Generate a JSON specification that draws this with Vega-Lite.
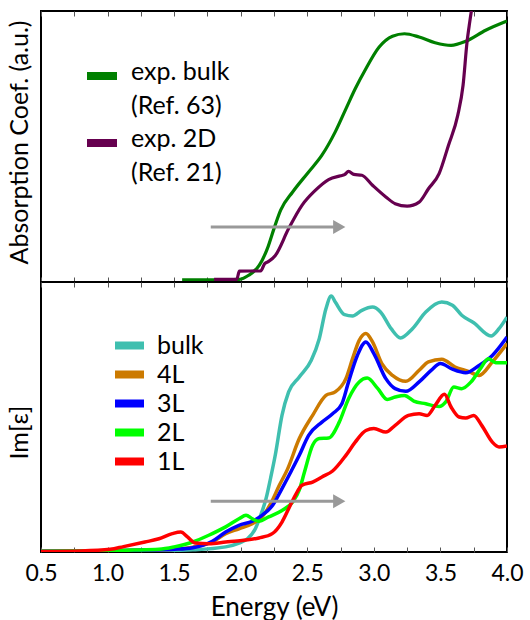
{
  "$schema": "https://vega.github.io/schema/vega-lite/v6.json",
  "padding": {"left": 5, "top": 9, "right": 0, "bottom": 0},
  "bounds": "flush",
  "spacing": 0,
  "config": {
    "view": {"stroke": "black", "strokeWidth": 2},
    "font": "Lato",
    "axis": {"labelFont": "Lato", "titleFont": "Lato", "titleFontWeight": "normal", "labelColor": "black", "titleColor": "black", "grid": false, "domain": false}
  },
  "datasets": {
    "top": [
      {"E": 1.56, "v": 0.8, "s": "exp. bulk"}, {"E": 1.8, "v": 0.8, "s": "exp. bulk"}, {"E": 1.99, "v": 1.0, "s": "exp. bulk"},
      {"E": 2.06, "v": 2.5, "s": "exp. bulk"}, {"E": 2.14, "v": 6.2, "s": "exp. bulk"}, {"E": 2.2, "v": 12.3, "s": "exp. bulk"},
      {"E": 2.25, "v": 19.7, "s": "exp. bulk"}, {"E": 2.3, "v": 26.5, "s": "exp. bulk"}, {"E": 2.39, "v": 33.2, "s": "exp. bulk"},
      {"E": 2.51, "v": 40.6, "s": "exp. bulk"}, {"E": 2.61, "v": 46.8, "s": "exp. bulk"}, {"E": 2.71, "v": 55.4, "s": "exp. bulk"},
      {"E": 2.79, "v": 63.9, "s": "exp. bulk"}, {"E": 2.86, "v": 71.3, "s": "exp. bulk"}, {"E": 2.94, "v": 78.7, "s": "exp. bulk"},
      {"E": 3.04, "v": 86.7, "s": "exp. bulk"}, {"E": 3.14, "v": 90.7, "s": "exp. bulk"}, {"E": 3.23, "v": 91.6, "s": "exp. bulk"},
      {"E": 3.34, "v": 90.4, "s": "exp. bulk"}, {"E": 3.46, "v": 88.3, "s": "exp. bulk"}, {"E": 3.58, "v": 87.3, "s": "exp. bulk"},
      {"E": 3.69, "v": 88.8, "s": "exp. bulk"}, {"E": 3.84, "v": 92.9, "s": "exp. bulk"}, {"E": 4.0, "v": 96.3, "s": "exp. bulk"},
      {"E": 1.8, "v": 1.0, "s": "exp. 2D"}, {"E": 1.97, "v": 1.0, "s": "exp. 2D"}, {"E": 1.99, "v": 4.0, "s": "exp. 2D"},
      {"E": 2.15, "v": 4.1, "s": "exp. 2D"}, {"E": 2.18, "v": 6.8, "s": "exp. 2D"}, {"E": 2.21, "v": 7.6, "s": "exp. 2D"},
      {"E": 2.26, "v": 9.8, "s": "exp. 2D"}, {"E": 2.36, "v": 19.7, "s": "exp. 2D"}, {"E": 2.46, "v": 28.3, "s": "exp. 2D"},
      {"E": 2.56, "v": 33.8, "s": "exp. 2D"}, {"E": 2.66, "v": 37.8, "s": "exp. 2D"}, {"E": 2.75, "v": 39.2, "s": "exp. 2D"},
      {"E": 2.78, "v": 39.6, "s": "exp. 2D"}, {"E": 2.81, "v": 40.8, "s": "exp. 2D"}, {"E": 2.85, "v": 39.7, "s": "exp. 2D"},
      {"E": 2.91, "v": 39.4, "s": "exp. 2D"}, {"E": 2.99, "v": 35.7, "s": "exp. 2D"}, {"E": 3.09, "v": 31.4, "s": "exp. 2D"},
      {"E": 3.16, "v": 28.9, "s": "exp. 2D"}, {"E": 3.25, "v": 28.0, "s": "exp. 2D"}, {"E": 3.34, "v": 29.5, "s": "exp. 2D"},
      {"E": 3.41, "v": 34.4, "s": "exp. 2D"}, {"E": 3.49, "v": 40.0, "s": "exp. 2D"}, {"E": 3.56, "v": 50.4, "s": "exp. 2D"},
      {"E": 3.63, "v": 61.5, "s": "exp. 2D"}, {"E": 3.67, "v": 72.6, "s": "exp. 2D"}, {"E": 3.7, "v": 88.6, "s": "exp. 2D"},
      {"E": 3.72, "v": 95.9, "s": "exp. 2D"}, {"E": 3.745, "v": 104, "s": "exp. 2D"}
    ],
    "bottom": [
      {"E": 0.5, "v": 0.3, "s": "bulk"}, {"E": 1.0, "v": 0.4, "s": "bulk"}, {"E": 1.3, "v": 0.5, "s": "bulk"}, {"E": 1.5, "v": 0.6, "s": "bulk"},
      {"E": 1.64, "v": 0.8, "s": "bulk"}, {"E": 1.887, "v": 1.9, "s": "bulk"}, {"E": 1.987, "v": 3.3, "s": "bulk"}, {"E": 2.05, "v": 4.9, "s": "bulk"},
      {"E": 2.11, "v": 8.6, "s": "bulk"}, {"E": 2.15, "v": 13.6, "s": "bulk"}, {"E": 2.19, "v": 19.7, "s": "bulk"}, {"E": 2.225, "v": 27.5, "s": "bulk"},
      {"E": 2.26, "v": 36.0, "s": "bulk"}, {"E": 2.31, "v": 50.6, "s": "bulk"}, {"E": 2.36, "v": 59.3, "s": "bulk"}, {"E": 2.44, "v": 64.8, "s": "bulk"},
      {"E": 2.53, "v": 71.0, "s": "bulk"}, {"E": 2.59, "v": 79.0, "s": "bulk"}, {"E": 2.64, "v": 90.1, "s": "bulk"}, {"E": 2.68, "v": 94.8, "s": "bulk"},
      {"E": 2.71, "v": 92.6, "s": "bulk"}, {"E": 2.78, "v": 87.9, "s": "bulk"}, {"E": 2.84, "v": 87.4, "s": "bulk"}, {"E": 2.91, "v": 89.5, "s": "bulk"},
      {"E": 2.99, "v": 90.7, "s": "bulk"}, {"E": 3.05, "v": 88.9, "s": "bulk"}, {"E": 3.13, "v": 82.7, "s": "bulk"}, {"E": 3.2, "v": 79.3, "s": "bulk"},
      {"E": 3.29, "v": 82.7, "s": "bulk"}, {"E": 3.39, "v": 88.9, "s": "bulk"}, {"E": 3.51, "v": 92.6, "s": "bulk"}, {"E": 3.59, "v": 91.4, "s": "bulk"},
      {"E": 3.66, "v": 87.7, "s": "bulk"}, {"E": 3.75, "v": 84.9, "s": "bulk"}, {"E": 3.88, "v": 80.0, "s": "bulk"}, {"E": 3.94, "v": 82.7, "s": "bulk"},
      {"E": 4.0, "v": 87.0, "s": "bulk"},
      {"E": 0.5, "v": 0.3, "s": "4L"}, {"E": 1.0, "v": 0.4, "s": "4L"}, {"E": 1.3, "v": 0.7, "s": "4L"}, {"E": 1.5, "v": 1.0, "s": "4L"},
      {"E": 1.64, "v": 1.8, "s": "4L"}, {"E": 1.787, "v": 3.7, "s": "4L"}, {"E": 1.887, "v": 6.8, "s": "4L"}, {"E": 1.987, "v": 8.6, "s": "4L"},
      {"E": 2.087, "v": 10.5, "s": "4L"}, {"E": 2.16, "v": 13.0, "s": "4L"}, {"E": 2.225, "v": 17.9, "s": "4L"}, {"E": 2.29, "v": 24.7, "s": "4L"},
      {"E": 2.35, "v": 30.5, "s": "4L"}, {"E": 2.44, "v": 42.0, "s": "4L"}, {"E": 2.54, "v": 50.6, "s": "4L"}, {"E": 2.64, "v": 58.0, "s": "4L"},
      {"E": 2.71, "v": 59.3, "s": "4L"}, {"E": 2.79, "v": 64.2, "s": "4L"}, {"E": 2.84, "v": 71.6, "s": "4L"}, {"E": 2.89, "v": 78.4, "s": "4L"},
      {"E": 2.94, "v": 80.9, "s": "4L"}, {"E": 2.99, "v": 77.8, "s": "4L"}, {"E": 3.06, "v": 69.8, "s": "4L"}, {"E": 3.14, "v": 65.4, "s": "4L"},
      {"E": 3.24, "v": 63.2, "s": "4L"}, {"E": 3.34, "v": 67.3, "s": "4L"}, {"E": 3.41, "v": 70.4, "s": "4L"}, {"E": 3.51, "v": 71.4, "s": "4L"},
      {"E": 3.61, "v": 68.5, "s": "4L"}, {"E": 3.71, "v": 66.9, "s": "4L"}, {"E": 3.79, "v": 65.4, "s": "4L"}, {"E": 3.89, "v": 70.4, "s": "4L"},
      {"E": 4.0, "v": 77.2, "s": "4L"},
      {"E": 0.5, "v": 0.3, "s": "3L"}, {"E": 1.0, "v": 0.4, "s": "3L"}, {"E": 1.3, "v": 0.7, "s": "3L"}, {"E": 1.5, "v": 1.0, "s": "3L"},
      {"E": 1.64, "v": 1.6, "s": "3L"}, {"E": 1.787, "v": 4.0, "s": "3L"}, {"E": 1.887, "v": 7.4, "s": "3L"}, {"E": 1.987, "v": 9.9, "s": "3L"},
      {"E": 2.087, "v": 11.4, "s": "3L"}, {"E": 2.16, "v": 13.6, "s": "3L"}, {"E": 2.24, "v": 17.3, "s": "3L"}, {"E": 2.31, "v": 23.5, "s": "3L"},
      {"E": 2.38, "v": 30.0, "s": "3L"}, {"E": 2.44, "v": 35.8, "s": "3L"}, {"E": 2.51, "v": 43.2, "s": "3L"}, {"E": 2.61, "v": 48.1, "s": "3L"},
      {"E": 2.69, "v": 51.2, "s": "3L"}, {"E": 2.76, "v": 54.9, "s": "3L"}, {"E": 2.81, "v": 63.0, "s": "3L"}, {"E": 2.876, "v": 72.8, "s": "3L"},
      {"E": 2.94, "v": 77.8, "s": "3L"}, {"E": 3.0, "v": 73.5, "s": "3L"}, {"E": 3.09, "v": 64.2, "s": "3L"}, {"E": 3.16, "v": 60.5, "s": "3L"},
      {"E": 3.24, "v": 59.5, "s": "3L"}, {"E": 3.34, "v": 63.0, "s": "3L"}, {"E": 3.43, "v": 67.3, "s": "3L"}, {"E": 3.5, "v": 69.8, "s": "3L"},
      {"E": 3.59, "v": 67.7, "s": "3L"}, {"E": 3.69, "v": 66.4, "s": "3L"}, {"E": 3.79, "v": 69.1, "s": "3L"}, {"E": 3.89, "v": 72.8, "s": "3L"},
      {"E": 4.0, "v": 79.6, "s": "3L"},
      {"E": 0.5, "v": 0.3, "s": "2L"}, {"E": 1.0, "v": 0.5, "s": "2L"}, {"E": 1.2, "v": 0.7, "s": "2L"}, {"E": 1.386, "v": 1.0, "s": "2L"},
      {"E": 1.5, "v": 1.9, "s": "2L"}, {"E": 1.64, "v": 3.7, "s": "2L"}, {"E": 1.76, "v": 6.2, "s": "2L"}, {"E": 1.887, "v": 9.3, "s": "2L"},
      {"E": 1.987, "v": 12.3, "s": "2L"}, {"E": 2.04, "v": 13.6, "s": "2L"}, {"E": 2.087, "v": 12.3, "s": "2L"}, {"E": 2.137, "v": 11.4, "s": "2L"},
      {"E": 2.21, "v": 13.0, "s": "2L"}, {"E": 2.31, "v": 15.4, "s": "2L"}, {"E": 2.39, "v": 18.5, "s": "2L"}, {"E": 2.44, "v": 23.0, "s": "2L"},
      {"E": 2.48, "v": 29.8, "s": "2L"}, {"E": 2.54, "v": 39.5, "s": "2L"}, {"E": 2.59, "v": 42.0, "s": "2L"}, {"E": 2.66, "v": 42.2, "s": "2L"},
      {"E": 2.74, "v": 48.1, "s": "2L"}, {"E": 2.81, "v": 56.8, "s": "2L"}, {"E": 2.89, "v": 63.0, "s": "2L"}, {"E": 2.95, "v": 64.4, "s": "2L"},
      {"E": 3.03, "v": 60.5, "s": "2L"}, {"E": 3.1, "v": 56.5, "s": "2L"}, {"E": 3.16, "v": 57.4, "s": "2L"}, {"E": 3.23, "v": 58.0, "s": "2L"},
      {"E": 3.3, "v": 55.9, "s": "2L"}, {"E": 3.39, "v": 54.9, "s": "2L"}, {"E": 3.49, "v": 53.9, "s": "2L"}, {"E": 3.54, "v": 55.6, "s": "2L"},
      {"E": 3.6, "v": 61.1, "s": "2L"}, {"E": 3.66, "v": 60.5, "s": "2L"}, {"E": 3.73, "v": 63.0, "s": "2L"}, {"E": 3.8, "v": 67.9, "s": "2L"},
      {"E": 3.86, "v": 71.6, "s": "2L"}, {"E": 3.915, "v": 70.1, "s": "2L"}, {"E": 4.0, "v": 70.1, "s": "2L"},
      {"E": 0.5, "v": 0.2, "s": "1L"}, {"E": 0.8, "v": 0.4, "s": "1L"}, {"E": 1.02, "v": 1.0, "s": "1L"}, {"E": 1.12, "v": 2.0, "s": "1L"},
      {"E": 1.28, "v": 3.7, "s": "1L"}, {"E": 1.386, "v": 4.9, "s": "1L"}, {"E": 1.486, "v": 6.8, "s": "1L"}, {"E": 1.55, "v": 7.4, "s": "1L"},
      {"E": 1.6, "v": 5.6, "s": "1L"}, {"E": 1.66, "v": 3.3, "s": "1L"}, {"E": 1.76, "v": 3.1, "s": "1L"}, {"E": 1.887, "v": 3.7, "s": "1L"},
      {"E": 2.01, "v": 4.3, "s": "1L"}, {"E": 2.137, "v": 5.2, "s": "1L"}, {"E": 2.237, "v": 6.8, "s": "1L"}, {"E": 2.31, "v": 11.1, "s": "1L"},
      {"E": 2.36, "v": 16.0, "s": "1L"}, {"E": 2.41, "v": 21.0, "s": "1L"}, {"E": 2.46, "v": 24.7, "s": "1L"}, {"E": 2.54, "v": 25.9, "s": "1L"},
      {"E": 2.61, "v": 27.8, "s": "1L"}, {"E": 2.69, "v": 30.0, "s": "1L"}, {"E": 2.79, "v": 35.8, "s": "1L"}, {"E": 2.86, "v": 40.7, "s": "1L"},
      {"E": 2.94, "v": 45.0, "s": "1L"}, {"E": 3.0, "v": 45.7, "s": "1L"}, {"E": 3.09, "v": 44.4, "s": "1L"}, {"E": 3.16, "v": 46.9, "s": "1L"},
      {"E": 3.26, "v": 50.6, "s": "1L"}, {"E": 3.34, "v": 51.2, "s": "1L"}, {"E": 3.4, "v": 50.6, "s": "1L"}, {"E": 3.46, "v": 54.3, "s": "1L"},
      {"E": 3.53, "v": 58.4, "s": "1L"}, {"E": 3.58, "v": 53.7, "s": "1L"}, {"E": 3.64, "v": 50.0, "s": "1L"}, {"E": 3.69, "v": 49.6, "s": "1L"},
      {"E": 3.75, "v": 50.6, "s": "1L"}, {"E": 3.81, "v": 46.9, "s": "1L"}, {"E": 3.89, "v": 40.7, "s": "1L"}, {"E": 3.94, "v": 38.9, "s": "1L"},
      {"E": 4.0, "v": 39.3, "s": "1L"}
    ],
    "arrowTop": [{"E": 1.775, "E2": 2.70, "Eh": 2.74, "v": 20.3}],
    "arrowBottom": [{"E": 1.775, "E2": 2.70, "Eh": 2.74, "v": 18.8}]
  },
  "resolve": {"scale": {"color": "independent"}, "legend": {"color": "independent"}},
  "vconcat": [
    {
      "width": 466, "height": 271,
      "layer": [
        {
          "data": {"name": "top"},
          "mark": {"type": "line", "strokeWidth": 3.2, "interpolate": "monotone", "clip": true},
          "encoding": {
            "x": {"field": "E", "type": "quantitative", "scale": {"domain": [0.5, 4.0], "nice": false, "zero": false},
                  "axis": {"orient": "bottom", "values": [0.5,0.75,1,1.25,1.5,1.75,2,2.25,2.5,2.75,3,3.25,3.5,3.75,4], "labels": false, "tickSize": -5, "tickColor": "#555555", "tickWidth": 1, "title": null}},
            "y": {"field": "v", "type": "quantitative", "scale": {"domain": [0, 100], "nice": false},
                  "axis": {"title": "Absorption Coef. (a.u.)", "labels": false, "ticks": false, "titleFontSize": 25, "titlePadding": 9, "titleY": 131}},
            "color": {"field": "s", "type": "nominal", "sort": null,
                      "scale": {"domain": ["exp. bulk", "exp. 2D"], "range": ["#008000", "#66004f"]},
                      "legend": {"orient": "none", "legendX": 42, "legendY": 46, "title": null, "padding": 0,
                                 "symbolType": "stroke", "symbolStrokeWidth": 8, "symbolSize": 900,
                                 "labelFont": "Lato", "labelFontSize": 25, "labelColor": "black", "labelOffset": 10, "labelLimit": 300,
                                 "labelBaseline": "alphabetic", "rowPadding": 5,
                                 "labelExpr": "datum.label == 'exp. bulk' ? ['exp. bulk', '(Ref. 63)'] : ['exp. 2D', '(Ref. 21)']",
                                 "encode": {"labels": {"update": {"dy": {"value": 4}, "lineHeight": {"value": 34}}}}}}
          }
        },
        {
          "data": {"name": "arrowTop"},
          "mark": {"type": "rule", "color": "#999999", "strokeWidth": 3},
          "encoding": {
            "x": {"field": "E", "type": "quantitative",
                  "axis": {"orient": "top", "values": [0.5,0.75,1,1.25,1.5,1.75,2,2.25,2.5,2.75,3,3.25,3.5,3.75,4], "labels": false, "tickSize": -5, "tickColor": "#555555", "tickWidth": 1, "title": null}},
            "x2": {"field": "E2"},
            "y": {"field": "v", "type": "quantitative",
                  "axis": {"title": "Absorption Coef. (a.u.)", "labels": false, "ticks": false, "titleFontSize": 25, "titlePadding": 9, "titleY": 131}}
          }
        },
        {
          "data": {"name": "arrowTop"},
          "mark": {"type": "point", "shape": "triangle-right", "filled": true, "color": "#999999", "size": 200, "opacity": 1},
          "encoding": {
            "x": {"field": "Eh", "type": "quantitative", "axis": null},
            "y": {"field": "v", "type": "quantitative",
                  "axis": {"title": "Absorption Coef. (a.u.)", "labels": false, "ticks": false, "titleFontSize": 25, "titlePadding": 9, "titleY": 131}}
          }
        }
      ],
      "resolve": {"axis": {"x": "independent"}}
    },
    {
      "width": 466, "height": 270,
      "layer": [
        {
          "data": {"name": "bottom"},
          "mark": {"type": "line", "strokeWidth": 3.5, "interpolate": "monotone", "clip": true},
          "encoding": {
            "x": {"field": "E", "type": "quantitative", "scale": {"domain": [0.5, 4.0], "nice": false, "zero": false},
                  "axis": {"orient": "bottom", "values": [0.5,0.75,1,1.25,1.5,1.75,2,2.25,2.5,2.75,3,3.25,3.5,3.75,4], "format": ".1f",
                           "labelExpr": "(datum.value * 4) % 2 == 0 ? datum.label : ''", "labelOverlap": false, "labelFlush": false,
                           "labelFontSize": 23, "labelPadding": 15, "tickSize": -5, "tickColor": "#555555", "tickWidth": 1,
                           "title": "Energy (eV)", "titleFontSize": 26, "titlePadding": 9}},
            "y": {"field": "v", "type": "quantitative", "scale": {"domain": [0, 100], "nice": false},
                  "axis": {"title": "Im[ε]", "labels": false, "ticks": false, "titleFontSize": 25, "titlePadding": 9, "titleY": 150}},
            "color": {"field": "s", "type": "nominal", "sort": null,
                      "scale": {"domain": ["bulk", "4L", "3L", "2L", "1L"], "range": ["#3fbfaf", "#cc7a00", "#0000ff", "#00ff00", "#ff0000"]},
                      "legend": {"orient": "none", "legendX": 74, "legendY": 50, "title": null, "padding": 0,
                                 "symbolType": "M-3.3,0L3.3,0", "symbolStrokeWidth": 8, "symbolSize": 100,
                                 "labelFont": "Lato", "labelFontSize": 25, "labelColor": "black", "labelOffset": 17,
                                 "clipHeight": 27, "rowPadding": 2}}
          }
        },
        {
          "data": {"name": "arrowBottom"},
          "mark": {"type": "rule", "color": "#999999", "strokeWidth": 3},
          "encoding": {
            "x": {"field": "E", "type": "quantitative",
                  "axis": {"orient": "top", "values": [0.5,0.75,1,1.25,1.5,1.75,2,2.25,2.5,2.75,3,3.25,3.5,3.75,4], "labels": false, "tickSize": -5, "tickColor": "#555555", "tickWidth": 1, "title": null}},
            "x2": {"field": "E2"},
            "y": {"field": "v", "type": "quantitative",
                  "axis": {"title": "Im[ε]", "labels": false, "ticks": false, "titleFontSize": 25, "titlePadding": 9, "titleY": 150}}
          }
        },
        {
          "data": {"name": "arrowBottom"},
          "mark": {"type": "point", "shape": "triangle-right", "filled": true, "color": "#999999", "size": 200, "opacity": 1},
          "encoding": {
            "x": {"field": "Eh", "type": "quantitative", "axis": null},
            "y": {"field": "v", "type": "quantitative",
                  "axis": {"title": "Im[ε]", "labels": false, "ticks": false, "titleFontSize": 25, "titlePadding": 9, "titleY": 150}}
          }
        }
      ],
      "resolve": {"axis": {"x": "independent"}}
    }
  ]
}
